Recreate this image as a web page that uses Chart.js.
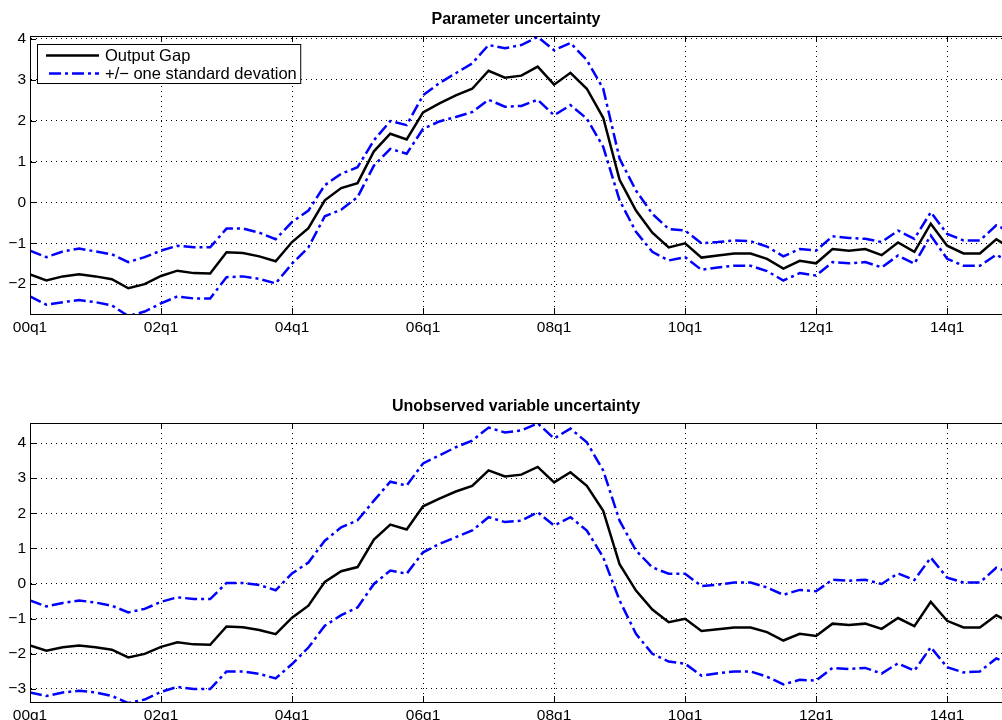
<!DOCTYPE html>
<html>
<head>
<meta charset="utf-8">
<script src="https://cdn.jsdelivr.net/npm/chart.js@4.4.1/dist/chart.umd.min.js"></script>
<style>
  body { margin: 0; background: #fff; }
  .panel { position: absolute; left: 0; }
</style>
</head>
<body>
<canvas id="paramChart" class="panel" width="1002" height="360" style="top:0"></canvas>
<canvas id="unobsChart" class="panel" width="1002" height="360" style="top:360px"></canvas>
<script>
// Quarters 00q1 .. 15q1
const quarters = [
  '00q1','00q2','00q3','00q4','01q1','01q2','01q3','01q4',
  '02q1','02q2','02q3','02q4','03q1','03q2','03q3','03q4',
  '04q1','04q2','04q3','04q4','05q1','05q2','05q3','05q4',
  '06q1','06q2','06q3','06q4','07q1','07q2','07q3','07q4',
  '08q1','08q2','08q3','08q4','09q1','09q2','09q3','09q4',
  '10q1','10q2','10q3','10q4','11q1','11q2','11q3','11q4',
  '12q1','12q2','12q3','12q4','13q1','13q2','13q3','13q4',
  '14q1','14q2','14q3','14q4','15q1'
];

const outputGap = [
  -1.76, -1.91, -1.81, -1.76, -1.81, -1.88, -2.10, -2.00,
  -1.80, -1.67, -1.73, -1.74, -1.22, -1.24, -1.32, -1.44,
  -0.97, -0.63,  0.05,  0.35,  0.47,  1.25,  1.68,  1.54,
   2.20,  2.42,  2.62,  2.78,  3.22,  3.05,  3.10,  3.32,
   2.88,  3.17,  2.78,  2.07,  0.55, -0.20, -0.74, -1.10,
  -1.00, -1.35, -1.30, -1.25, -1.25, -1.38, -1.62, -1.43,
  -1.49, -1.14, -1.18, -1.14, -1.29, -0.98, -1.21, -0.52,
  -1.06, -1.25, -1.25, -0.90, -1.15
];

// Parameter uncertainty band
const paramUpper = [
  -1.18, -1.34, -1.20, -1.13, -1.20, -1.27, -1.46, -1.34,
  -1.18, -1.06, -1.10, -1.10, -0.64, -0.64, -0.74, -0.90,
  -0.48, -0.20,  0.42,  0.70,  0.86,  1.52,  1.99,  1.89,
   2.62,  2.92,  3.16,  3.40,  3.85,  3.77,  3.85,  4.05,
   3.72,  3.90,  3.48,  2.78,  1.07,  0.29, -0.28, -0.65,
  -0.69, -1.00, -0.97, -0.93, -0.95, -1.08, -1.32, -1.14,
  -1.18, -0.83, -0.87, -0.89, -0.97, -0.69, -0.89, -0.24,
  -0.77, -0.93, -0.93, -0.56, -0.75
];
const paramLower = [
  -2.30, -2.50, -2.44, -2.39, -2.44, -2.52, -2.78, -2.67,
  -2.47, -2.30, -2.35, -2.35, -1.83, -1.81, -1.87, -1.98,
  -1.50, -1.10, -0.34, -0.18,  0.13,  0.90,  1.31,  1.19,
   1.80,  1.98,  2.09,  2.21,  2.51,  2.34,  2.36,  2.51,
   2.13,  2.38,  2.05,  1.36,  0.05, -0.72, -1.21, -1.42,
  -1.34, -1.65, -1.59, -1.55, -1.55, -1.68, -1.91, -1.73,
  -1.79, -1.46, -1.49, -1.46, -1.59, -1.30, -1.50, -0.81,
  -1.38, -1.55, -1.55, -1.28, -1.50
];

// Unobserved variable uncertainty band
const unobsUpper = [
  -0.48, -0.65, -0.55, -0.48, -0.54, -0.63, -0.82, -0.72,
  -0.52, -0.39, -0.44, -0.44,  0.02,  0.02, -0.04, -0.19,
   0.29,  0.60,  1.22,  1.60,  1.80,  2.36,  2.90,  2.79,
   3.42,  3.65,  3.88,  4.07,  4.44,  4.30,  4.36,  4.56,
   4.13,  4.41,  4.02,  3.22,  1.79,  0.94,  0.46,  0.28,
   0.28, -0.07, -0.03,  0.03,  0.03, -0.11, -0.32, -0.18,
  -0.22,  0.11,  0.08,  0.11, -0.01,  0.29,  0.10,  0.74,
   0.17,  0.03,  0.03,  0.45,  0.30
];
const unobsLower = [
  -3.10, -3.20, -3.10, -3.05, -3.10, -3.20, -3.40, -3.30,
  -3.08, -2.94, -3.00, -3.00, -2.50, -2.50, -2.57, -2.70,
  -2.29, -1.82, -1.20, -0.90, -0.68, -0.01,  0.37,  0.28,
   0.89,  1.13,  1.32,  1.51,  1.89,  1.75,  1.79,  2.03,
   1.65,  1.89,  1.51,  0.75, -0.48, -1.43, -2.00, -2.22,
  -2.28, -2.62, -2.55, -2.50, -2.50, -2.65, -2.87, -2.74,
  -2.76, -2.40, -2.43, -2.40, -2.56, -2.27, -2.48, -1.81,
  -2.38, -2.53, -2.50, -2.13, -2.30
];

const FONT = "'Liberation Sans', Arial, Helvetica, sans-serif";
const BLUE = '#0000ff';
const BLUE_DASH = [12, 4, 3, 4];

function toPoints(values) {
  return values.map((v, i) => ({ x: i, y: v }));
}

// Box round the plot, MATLAB style inward ticks and the legend
const framePlugin = {
  id: 'frame',
  afterDraw(chart, args, opts) {
    const { ctx, chartArea, scales } = chart;
    const { left, top, right, bottom } = chartArea;
    ctx.save();
    ctx.strokeStyle = '#000';
    ctx.lineWidth = 1;
    ctx.strokeRect(left + 0.5, top + 0.5, right - left, bottom - top);

    ctx.beginPath();
    scales.x.ticks.forEach(t => {
      const px = Math.round(scales.x.getPixelForValue(t.value)) + 0.5;
      ctx.moveTo(px, bottom); ctx.lineTo(px, bottom - 6);
      ctx.moveTo(px, top); ctx.lineTo(px, top + 6);
    });
    scales.y.ticks.forEach(t => {
      const py = Math.round(scales.y.getPixelForValue(t.value)) + 0.5;
      ctx.moveTo(left, py); ctx.lineTo(left + 6, py);
    });
    ctx.stroke();

    if (opts.legend) {
      const items = chart.data.datasets.slice(0, 2);
      ctx.font = '16.5px ' + FONT;
      const textX = left + 75;
      const w = Math.max(...items.map(d => ctx.measureText(d.label).width));
      const bx = left + 7.5, by = top + 8.5;
      const bw = textX - bx + w + 4, bh = 39;
      ctx.fillStyle = '#fff';
      ctx.fillRect(bx, by, bw, bh);
      ctx.strokeStyle = '#000';
      ctx.lineWidth = 1;
      ctx.strokeRect(bx, by, bw, bh);
      items.forEach((d, i) => {
        const yy = by + 11 + i * 18;
        ctx.beginPath();
        ctx.strokeStyle = d.borderColor;
        ctx.lineWidth = d.borderWidth;
        ctx.setLineDash(d.borderDash || []);
        ctx.lineDashOffset = -3;
        ctx.moveTo(left + 16, yy);
        ctx.lineTo(left + 69, yy);
        ctx.stroke();
        ctx.setLineDash([]);
        ctx.fillStyle = '#000';
        ctx.textBaseline = 'middle';
        ctx.textAlign = 'left';
        ctx.fillText(d.label, textX, yy + 1);
      });
    }
    ctx.restore();
  }
};

function makePanel(id, title, upper, lower, yMin, yMax, plotTop, plotBottom, showLegend) {
  const canvasH = 360;
  const titleCenter = plotTop - 16;
  const titleSize = 16;
  const titleLine = titleSize * 1.2;
  const ctx = document.getElementById(id).getContext('2d');
  return new Chart(ctx, {
    type: 'line',
    data: {
      datasets: [
        { label: 'Output Gap', data: toPoints(outputGap), borderColor: '#000', borderWidth: 2.5 },
        { label: '+/\u2212 one standard devation', data: toPoints(upper), borderColor: BLUE, borderWidth: 2.5, borderDash: BLUE_DASH },
        { label: 'lower', data: toPoints(lower), borderColor: BLUE, borderWidth: 2.5, borderDash: BLUE_DASH }
      ]
    },
    options: {
      responsive: false,
      animation: false,
      devicePixelRatio: 1,
      elements: {
        point: { radius: 0 },
        line: { tension: 0, borderCapStyle: 'butt', borderJoinStyle: 'miter' }
      },
      layout: { padding: 0 },
      plugins: {
        legend: { display: false },
        tooltip: { enabled: false },
        title: {
          display: true,
          text: title,
          fullSize: false,
          color: '#000',
          font: { family: FONT, size: titleSize, weight: 'bold', lineHeight: 1.2 },
          padding: { top: titleCenter - titleLine / 2, bottom: plotTop - (titleCenter - titleLine / 2) - titleLine }
        },
        frame: { legend: showLegend }
      },
      scales: {
        x: {
          type: 'linear',
          min: 0,
          max: 59.35,
          afterFit: s => { s.height = canvasH - plotBottom; },
          grid: { color: '#000', lineWidth: 1, drawTicks: false },
          border: { display: true, color: '#000', width: 1, dash: [1, 4] },
          ticks: {
            stepSize: 8,
            includeBounds: false,
            autoSkip: false,
            maxRotation: 0,
            padding: 4,
            color: '#000',
            font: { family: FONT, size: 15.5 },
            callback: v => quarters[v] || ''
          }
        },
        y: {
          min: yMin,
          max: yMax,
          afterFit: s => { s.width = 30; },
          grid: { color: '#000', lineWidth: 1, drawTicks: false },
          border: { display: true, color: '#000', width: 1, dash: [1, 4] },
          ticks: {
            stepSize: 1,
            includeBounds: false,
            padding: 4,
            color: '#000',
            font: { family: FONT, size: 15.5 },
            callback: v => (v < 0 ? '\u2212' + Math.abs(v) : String(v))
          }
        }
      }
    },
    plugins: [framePlugin]
  });
}

makePanel('paramChart', 'Parameter uncertainty', paramUpper, paramLower, -2.73, 4.07, 36, 314, true);
makePanel('unobsChart', 'Unobserved variable uncertainty', unobsUpper, unobsLower, -3.37, 4.57, 63, 342, false);
</script>
</body>
</html>
